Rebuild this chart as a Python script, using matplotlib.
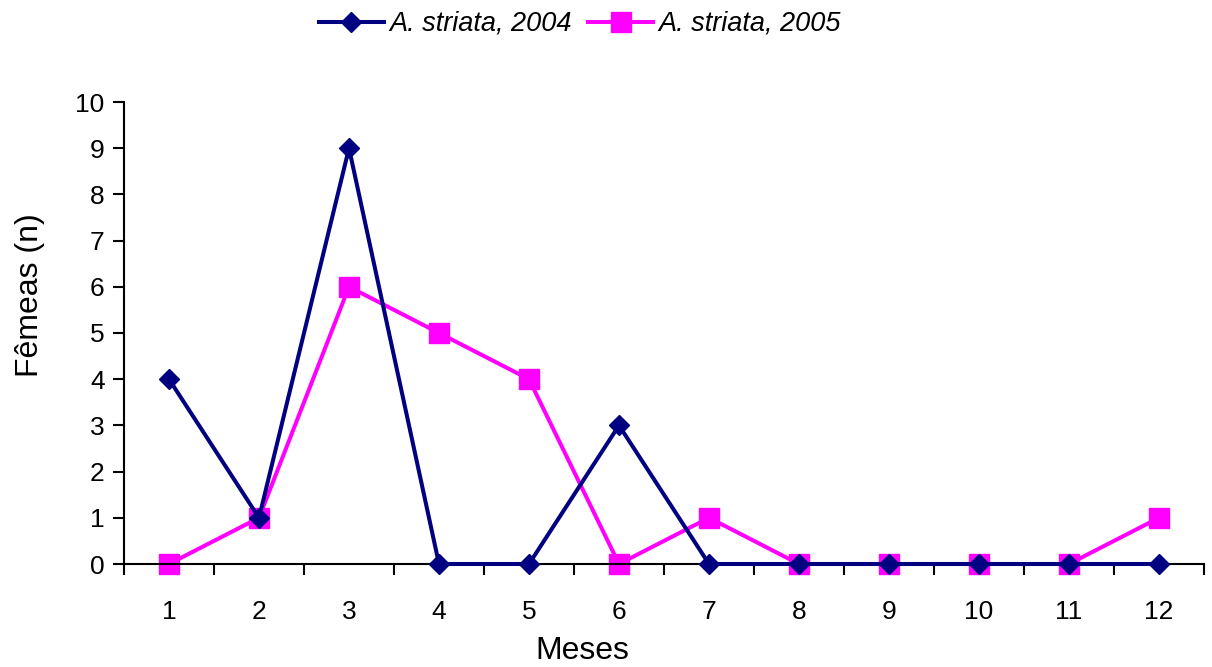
import matplotlib
matplotlib.use("Agg")
import matplotlib.pyplot as plt
import numpy as np

plt.rcParams['font.family'] = ['Liberation Sans', 'DejaVu Sans']

# meses e número de fêmeas por ano
meses = [1, 2, 3, 4, 5, 6, 7, 8, 9, 10, 11, 12]
femeas_2004 = [4, 1, 9, 0, 0, 3, 0, 0, 0, 0, 0, 0]
femeas_2005 = [0, 1, 6, 5, 4, 0, 1, 0, 0, 0, 0, 1]

fig = plt.figure(figsize=(12.12, 6.67), dpi=100)
ax = fig.add_axes([124/1212, 103/667, 1080/1212, 462/667])

ax.plot(meses, femeas_2004, color='#000080', linewidth=2.9, marker='D',
        markersize=10, label='A. striata, 2004', zorder=3)
ax.plot(meses, femeas_2005, color='#FF00FF', linewidth=2.9, marker='s',
        markersize=14, label='A. striata, 2005', zorder=2)

ax.set_xlim(0.5, 12.5)
ax.set_ylim(0, 10)
ax.set_yticks(range(0, 11))
ax.set_xticks(meses)
ax.set_xticks(np.arange(0.5, 13, 1), minor=True)
ax.tick_params(axis='x', which='major', length=0, pad=26, labelsize=19)
ax.tick_params(axis='x', which='minor', length=8, width=1.5, direction='out')
ax.tick_params(axis='y', length=8, width=1.5, direction='out', labelsize=19, pad=6)

for s in ['top', 'right']:
    ax.spines[s].set_visible(False)
for s in ['left', 'bottom']:
    ax.spines[s].set_linewidth(1.5)
for ln in ax.lines:
    ln.set_clip_on(False)

# títulos dos eixos (posição como no gráfico original do Excel)
fig.text(582/1212, 1 - 651/667, 'Meses', fontsize=23, ha='center', va='center')
fig.text(30/1212, 1 - 295/667, 'Fêmeas (n)', fontsize=23, ha='center',
         va='center', rotation=90)

fig.legend(loc='center', bbox_to_anchor=(580/1212, 1 - 24/667), ncol=2, frameon=False,
           prop={'style': 'italic', 'size': 19.5}, handlelength=2.4,
           handletextpad=0.2, columnspacing=0.6)

fig.savefig('out.png', dpi=100)
